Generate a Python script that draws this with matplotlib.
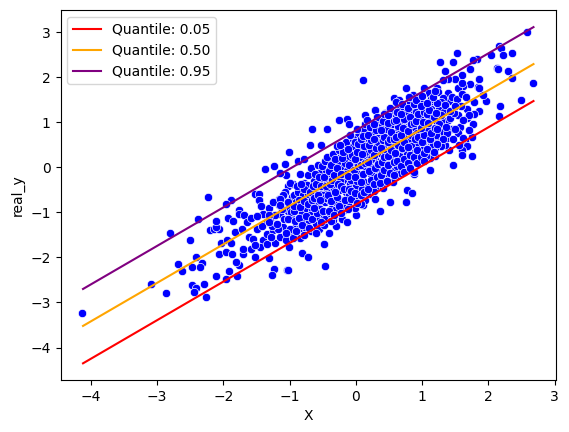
import matplotlib
matplotlib.use("Agg")
import matplotlib.pyplot as plt

quantile_labels = ["Quantile: 0.05", "Quantile: 0.50", "Quantile: 0.95"]
quantile_colors = ["red", "orange", "purple"]
line_x = [-4.12, 2.68]
q05_y = [-4.35, 1.47]
q50_y = [-3.52, 2.29]
q95_y = [-2.70, 3.11]

pts_left = [(-4.13,-3.23),(-2.86,-2.79),(-3.09,-2.59),(-2.80,-1.45),(-2.51,-1.61),(-2.23,-0.65),(-2.38,-1.14),
(-2.69,-2.14),(-2.62,-2.30),(-2.41,-1.99),(-2.32,-2.12),(-2.47,-2.21),(-2.36,-2.21),(-2.47,-2.61),(-2.41,-2.67),
(-2.44,-2.77),(-2.29,-2.59),(-2.27,-2.87),(-2.12,-2.41),(-1.96,-2.47),(-1.91,-2.30),(-1.79,-2.41),(-1.76,-2.16),
(-1.81,-2.10),(-2.06,-1.92),(-1.96,-1.87),(-1.87,-1.92),(-1.70,-1.92),(-1.59,-1.81),(-1.70,-1.81),(-1.52,-1.99),
(-1.32,-2.01),(-1.24,-2.25),(-1.26,-2.39),(-1.04,-2.27),(-1.01,-1.76),(-2.21,-1.39),(-2.15,-1.36),(-2.06,-1.36),
(-2.11,-1.32),(-2.12,-1.19),(-1.93,-1.12),(-1.85,-1.19),(-1.83,-1.43),(-2.03,-1.67),(-1.94,-1.61),(-1.88,-1.67),
(-1.88,-0.72),(-1.96,-0.81),(-1.76,-0.94),(-1.76,-1.03),(-1.69,-1.05),(-1.52,-0.59),(-1.46,-0.59),(-1.46,-0.72),
(-1.43,-0.85),(-1.49,-1.07),(-1.31,-0.90),(-1.16,-0.70),(-1.16,-0.83),(-1.04,-0.76),(-1.05,-0.18),(-1.15,-0.13),
(-1.02,-0.42),(-0.95,-0.36),(-1.07,-0.55),(-0.97,-0.65),(-1.61,-1.54),(-1.55,-1.59),(-1.40,-1.61),(-1.22,-1.67),
(-1.35,-1.47),(-1.25,-1.40),(-1.20,-1.25),(-1.35,-1.21),(-1.50,-1.36),(-1.45,-1.77),(-1.52,-1.73),(-1.35,-1.71),
(-1.15,-1.55),(-0.96,-1.45),(-0.90,-1.30),(-0.96,-1.14),(-1.03,-0.96),(-0.87,-0.94),(-1.15,-1.03),(-1.30,-1.18),
(-1.40,-1.03),(-1.72,-1.36),(-1.65,-1.22),(-1.58,-1.12),(-1.42,-1.30),(-1.10,-1.32),(-1.05,-1.62),(-1.28,-1.55),
(-1.00,-1.38),(-1.02,-0.90),(-1.08,-1.15),(-1.12,-0.92),(-1.18,-1.38),(-1.22,-1.05),(-1.27,-1.30),(-1.32,-1.05),
(-1.10,-0.62),(-0.98,-1.00),(-1.06,-1.45),(-0.94,-0.62),(-1.25,-0.78)]

pts_mid = [(-0.67,0.86),(-0.25,1.06),(-0.13,1.08),(-0.10,0.97),(0.14,1.15),(0.29,1.28),(-0.43,0.86),(-0.70,0.50),
(-1.01,0.33),(-0.52,0.50),(-1.37,-0.03),(-1.23,0.02),(-1.07,0.08),(-0.87,0.13),(-0.78,0.19),(-1.15,-0.12),(-0.85,-0.16),
(-1.47,-0.72),(-1.43,-0.85),(-1.00,-0.34),(-0.79,-0.34),(-1.15,-0.70),(-1.03,-0.76),(-1.15,-0.83),(-1.49,-1.07),
(-1.31,-1.21),(-1.19,-1.25),(-1.02,-1.14),(-0.48,-1.70),(-0.81,-1.90),(-0.73,-1.99),(-0.46,-2.19),(-1.03,-2.27),
(-0.85,-1.58),(-0.40,-1.45),(-0.30,-1.30),(-0.21,-1.14),(-0.13,-1.21),(0.00,-1.05),(0.11,-0.83),(0.37,-0.96),
(0.52,-0.76),(0.76,-0.76),(0.77,-0.50),(0.85,-0.56),(0.87,-0.16),(0.10,1.93)]

pts_right = [(2.58,3.01),(2.16,2.70),(2.19,2.64),(2.04,2.50),(2.22,2.50),(2.36,2.53),(1.53,2.53),(1.83,2.41),(1.77,2.39),
(1.47,2.33),(1.27,2.33),(1.72,2.17),(1.35,2.13),(2.13,2.21),(2.15,2.19),(2.30,2.13),(2.36,1.99),(2.67,1.86),(2.49,1.50),
(2.18,1.37),(2.16,1.13),(1.97,1.46),(1.92,1.61),(1.86,1.95),(1.84,1.79),(1.72,1.84),(1.86,1.75),(1.60,2.04),(1.50,1.97),
(1.39,1.97),(1.32,1.93),(1.62,1.81),(1.54,1.75),(1.60,1.88),(0.76,1.77),(1.03,1.77),(1.23,1.75),(1.24,1.66),(1.11,1.64),
(0.86,1.61),(0.94,1.57),(0.58,1.53),(0.65,1.50),(0.61,1.44),(0.29,1.28),(0.44,1.21),(0.55,1.21),(1.41,1.46),(1.39,1.64),
(1.32,1.53),(1.26,1.30),(1.12,1.44),(1.14,1.30),(0.95,1.33),(0.73,1.35),(0.83,1.26),(1.78,1.44),(1.68,1.30),(1.86,1.24),
(1.78,1.19),(1.54,1.17),(1.68,1.10),(1.77,0.97),(1.57,0.90),(1.54,0.75),(1.44,0.84),(1.29,0.79),(1.39,1.06),(1.75,0.68),
(1.65,0.59),(1.68,0.48),(1.60,0.39),(1.60,0.27),(1.75,0.24),(1.47,0.04),(1.41,0.39),(1.35,0.50),(1.38,0.64),(1.23,0.59),
(1.14,0.55),(1.12,0.88),(0.97,0.66),(0.86,0.59),(1.01,0.37),(1.14,0.28),(1.20,0.24),(0.94,0.41),(0.86,0.21),(0.77,-0.01),
(0.71,0.10),(0.61,0.24),(0.40,0.04),(1.12,-0.07),(0.88,-0.10),(0.29,-0.30),(0.44,-0.19),(0.59,-0.21),(0.91,1.08),(0.74,1.15),
(0.50,0.86),(0.34,0.90),(0.26,0.53),(0.41,0.75),(0.55,0.68),(0.68,0.41),(0.34,1.08),(0.25,0.73),
(1.28,0.48),(1.32,0.78),(1.29,1.02),(1.33,1.22),(1.28,1.45),(1.35,1.38),(1.38,0.75),(1.42,1.10),(1.45,1.55),(1.48,1.20),
(1.50,0.85),(1.52,1.52),(1.58,1.35),(1.60,1.62),(1.62,0.65),(1.66,1.55),(1.70,1.15)]

pts_core_a = [(-0.95,-1.58),(-0.92,-1.20),(-0.90,-0.78),(-0.88,-0.55),(-0.85,-1.35),(-0.82,-1.02),(-0.80,-0.62),(-0.78,-1.50),
(-0.76,-0.90),(-0.74,-0.40),(-0.72,-1.20),(-0.70,-0.72),(-0.68,-1.42),(-0.66,-0.98),(-0.64,-0.30),(-0.62,-0.55),(-0.60,-1.25),
(-0.58,-0.82),(-0.56,-1.38),(-0.55,-0.12),(-0.53,-0.60),(-0.51,-1.05),(-0.50,-0.35),(-0.48,-1.28),(-0.46,-0.78),(-0.45,-0.05),
(-0.43,-0.50),(-0.42,-1.12),(-0.40,-0.22),(-0.38,-0.92),(-0.37,0.18),(-0.35,-0.62),(-0.34,-1.18),(-0.32,-0.35),(-0.30,0.05),
(-0.29,-0.80),(-0.27,-0.12),(-0.26,-1.00),(-0.25,-0.50),(-0.23,0.28),(-0.22,-0.72),(-0.20,0.02),(-0.19,-0.28),(-0.18,-0.95),
(-0.16,0.42),(-0.15,-0.55),(-0.13,-0.08),(-0.12,-0.80),(-0.10,0.15),(-0.09,-0.38),(-0.08,0.58),(-0.06,-0.62),(-0.05,-0.15),
(-0.03,0.30),(-0.02,-0.90),(0.00,-0.42),(0.01,0.08),(0.03,0.70),(0.04,-0.68),(0.06,-0.20),(0.07,0.42),(0.09,-0.48),(0.10,0.18),
(0.12,0.82),(0.13,-0.72),(0.15,-0.05),(0.16,0.55),(0.18,-0.38),(0.19,0.28),(0.21,-0.60),(0.22,0.05),(0.24,0.78),(0.25,-0.25),
(0.27,0.45),(0.28,-0.52),(0.30,0.15),(0.31,1.00),(0.33,-0.12),(0.34,0.65),(0.36,-0.42),(0.37,0.32),(0.39,0.02),(0.40,0.92),
(0.42,-0.30),(0.43,0.52),(0.45,0.18),(0.46,1.08),(0.48,-0.15),(0.49,0.72),(0.51,0.38),(0.52,0.02),(0.54,0.95),(0.55,0.25),
(0.57,0.58),(0.58,-0.08),(0.60,1.12),(0.61,0.42),(0.63,0.82),(0.64,0.12),(0.66,1.30),(0.67,0.58),(0.69,0.28),(0.70,1.00),
(0.72,0.05),(0.73,0.72),(0.75,0.45),(0.76,1.20),(0.78,0.20),(0.79,0.90),(0.81,0.60),(0.82,1.42),(0.84,0.35),(0.85,1.05),
(0.87,0.78),(0.88,0.12),(0.90,1.22),(0.91,0.50),(0.93,0.92),(0.95,0.28),(0.96,1.45),(0.98,0.70),(1.00,1.10),(1.02,0.45),
(1.04,0.88),(1.06,1.30),(1.08,0.62),(1.10,1.05),(1.12,0.20),(1.15,1.20),(1.18,0.78),(1.20,0.42),(1.22,1.00),(1.25,0.95),
(-0.93,-0.98),(-0.86,-0.72),(-0.83,-1.18),(-0.77,-1.32),(-0.73,-0.60),(-0.69,-1.05),(-0.63,-0.78),(-0.61,-1.10),(-0.57,-0.42),
(-0.54,-0.92),(-0.49,-0.62),(-0.47,-1.15),(-0.44,-0.30),(-0.41,-0.72),(-0.39,-1.02),(-0.36,-0.10),(-0.33,-0.48),(-0.31,-0.95),
(-0.28,0.12),(-0.24,-0.30),(-0.21,-0.85),(-0.17,-0.15),(-0.14,0.25),(-0.11,-0.62),(-0.07,-0.28),(-0.04,0.48),(-0.01,-0.72),
(0.02,-0.12),(0.05,0.22),(0.08,-0.82),(0.11,-0.30),(0.14,0.35),(0.17,-0.58),(0.20,0.62),(0.23,-0.15),(0.26,0.18),(0.29,-0.70),
(0.32,0.38),(0.35,-0.02),(0.38,0.60),(0.41,-0.45),(0.44,0.30),(0.47,0.85),(0.50,0.08),(0.53,0.50),(0.56,-0.32),(0.59,0.72),
(0.62,0.02),(0.65,0.95),(0.68,-0.12),(0.71,0.40),(0.74,0.85),(0.77,0.30),(0.80,1.05),(0.83,0.48),(0.86,0.90),(0.89,0.35),
(0.92,0.75),(0.97,1.10),(1.01,0.55),(1.05,0.25),(1.09,0.80),(1.13,1.08),(1.17,0.50),(1.21,0.72),(1.28,1.15),(1.32,0.62),
(1.36,0.90),(1.42,1.25),(1.46,0.62),(1.50,1.35),(1.55,0.50),(1.62,1.05),(1.70,0.82)]

pts_core_b = [(-0.91,-1.42),(-0.94,-0.86),(-0.89,-0.42),(-0.86,-1.12),(-0.81,-1.28),(-0.84,-0.88),(-0.79,-0.48),(-0.83,-0.38),
(-0.75,-1.08),(-0.78,-0.75),(-0.71,-1.35),(-0.67,-1.15),(-0.73,-0.82),(-0.69,-0.55),(-0.65,-0.42),(-0.72,-0.18),(-0.66,-0.72),
(-0.68,-0.02),(-0.61,-1.45),(-0.59,-1.02),(-0.63,-0.68),(-0.57,-0.62),(-0.60,-0.38),(-0.62,-0.15),(-0.56,-0.22),(-0.58,0.05),
(-0.64,-0.90),(-0.52,-1.22),(-0.49,-0.98),(-0.47,-0.68),(-0.53,-0.42),(-0.48,-0.22),(-0.51,0.02),(-0.46,0.14),(-0.54,-0.72),
(-0.45,-0.42),(-0.41,-0.98),(-0.38,-1.20),(-0.42,-0.62),(-0.37,-0.75),(-0.39,-0.38),(-0.36,-0.28),(-0.41,-0.08),(-0.38,0.05),
(-0.43,0.22),(-0.35,0.30),(-0.33,-1.05),(-0.28,-0.65),(-0.31,-0.55),(-0.27,-0.38),(-0.33,-0.18),(-0.28,-0.02),(-0.31,0.18),
(-0.26,0.38),(-0.29,0.48),(-0.25,-0.85),(-0.22,-1.02),(-0.17,-0.72),(-0.23,-0.42),(-0.18,-0.48),(-0.22,-0.15),(-0.17,0.10),
(-0.21,0.20),(-0.19,0.35),(-0.15,0.55),(-0.24,0.50),(-0.12,-0.92),(-0.08,-0.70),(-0.11,-0.48),(-0.07,-0.52),(-0.12,-0.20),
(-0.08,0.02),(-0.11,0.05),(-0.06,0.28),(-0.12,0.40),(-0.05,0.62),(-0.09,0.72),(-0.02,-0.58),(0.02,-0.80),(0.01,-0.30),
(-0.03,-0.05),(0.03,0.02),(-0.01,0.18),(0.02,0.35),(-0.02,0.55),(0.03,0.52),(0.01,0.85),(-0.01,-0.22),(0.08,-0.62),(0.12,-0.55),
(0.10,-0.15),(0.08,0.05),(0.13,0.10),(0.09,0.30),(0.12,0.48),(0.08,0.62),(0.11,0.70),(0.13,0.95),(0.07,-0.32),(0.18,-0.48),
(0.22,-0.28),(0.19,-0.08),(0.23,0.18),(0.18,0.12),(0.22,0.38),(0.19,0.50),(0.23,0.60),(0.18,0.72),(0.21,0.90),(0.17,1.05),
(0.28,-0.38),(0.32,-0.22),(0.29,-0.02),(0.33,0.08),(0.28,0.28),(0.31,0.42),(0.33,0.55),(0.28,0.62),(0.30,0.82),(0.32,1.12),
(0.27,0.95),(0.38,-0.18),(0.42,-0.05),(0.39,0.12),(0.43,0.22),(0.38,0.42),(0.41,0.60),(0.43,0.68),(0.38,0.82),(0.41,1.02),
(0.42,1.18),(0.37,-0.35),(0.48,0.05),(0.52,-0.12),(0.49,0.25),(0.53,0.38),(0.48,0.55),(0.52,0.62),(0.49,0.98),(0.53,0.78),
(0.48,1.15),(0.52,1.32),(0.47,-0.30),(0.58,0.12),(0.62,0.15),(0.59,0.32),(0.63,0.50),(0.58,0.62),(0.61,0.68),(0.63,0.92),
(0.58,1.02),(0.61,1.05),(0.62,1.22),(0.58,-0.18),(0.68,0.02),(0.72,0.18),(0.69,0.42),(0.73,0.55),(0.68,0.72),(0.71,0.88),
(0.73,1.08),(0.68,1.18),(0.70,1.40),(0.72,-0.10),(0.78,0.10),(0.82,0.28),(0.79,0.45),(0.83,0.72),(0.78,0.80),(0.81,1.12),
(0.83,0.95),(0.78,1.32),(0.80,1.55),(0.82,-0.02),(0.88,0.22),(0.92,0.38),(0.89,0.62),(0.93,0.68),(0.88,0.98),(0.91,1.02),
(0.93,1.18),(0.88,1.40),(0.90,1.50),(0.92,0.10),(0.98,0.22),(1.02,0.32),(0.99,0.55),(1.03,0.72),(0.98,0.88),(1.01,1.00),
(1.03,1.22),(0.98,1.35),(1.00,1.58),(1.02,0.15),(1.08,0.40),(1.12,0.62),(1.09,0.98),(1.13,0.75),(1.08,1.18),(1.11,1.28),
(1.13,1.52),(1.07,1.42),(1.18,0.35),(1.22,0.52),(1.19,0.88),(1.23,0.85),(1.18,1.12),(1.21,1.20),(1.23,1.42),(1.17,1.55),(1.20,1.70)]

all_pts = pts_left + pts_mid + pts_right + pts_core_a + pts_core_b
scatter_x = [p[0] for p in all_pts]
scatter_y = [p[1] for p in all_pts]

fig = plt.figure(figsize=(5.69, 4.32), dpi=100)
ax = fig.add_axes([60.5/569, 52/432, 495.5/569, 370/432])
ax.scatter(scatter_x, scatter_y, s=36, c="blue", edgecolors="white", linewidths=0.48)
for ys, lab, col in zip([q05_y, q50_y, q95_y], quantile_labels, quantile_colors):
    ax.plot(line_x, ys, color=col, label=lab)
ax.set_xlim(-4.46, 3.02)
ax.set_ylim(-4.72, 3.49)
ax.set_xlabel("X")
ax.set_ylabel("real_y")
ax.legend(loc="upper left")
fig.savefig("out.png", dpi=100)
